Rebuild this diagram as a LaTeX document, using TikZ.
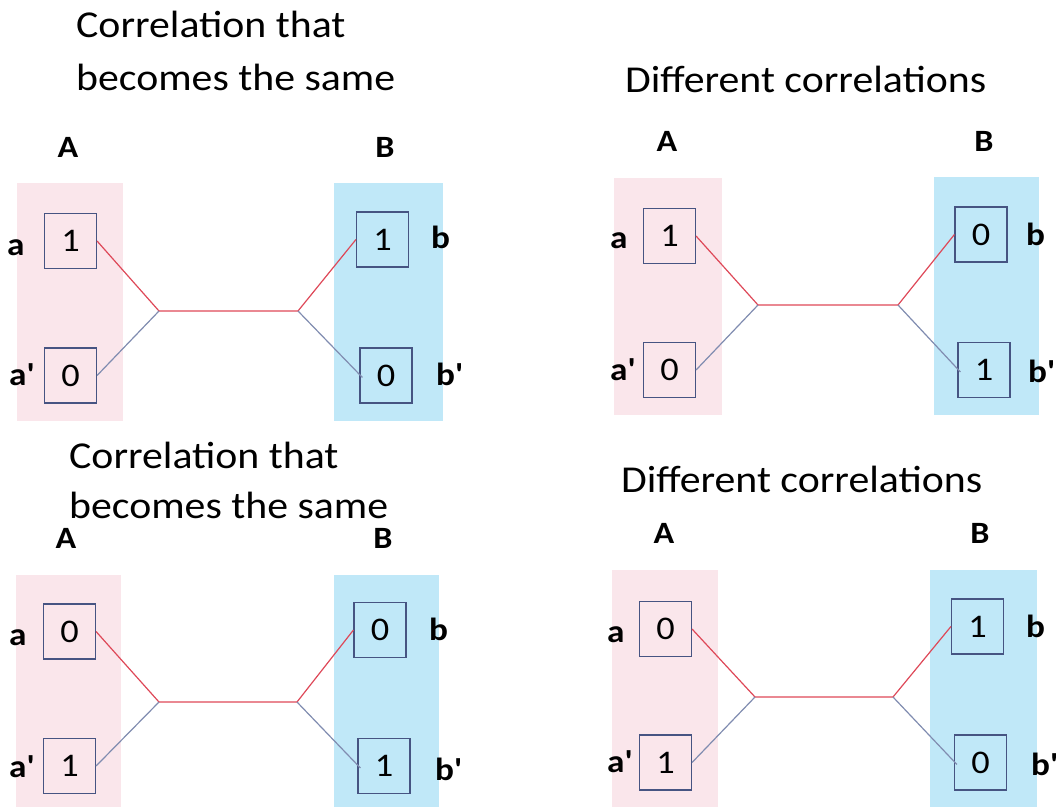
\documentclass[tikz,border=0pt]{standalone}
\usepackage{fontspec}
\setmainfont{Carlito}[FakeStretch=1.1]
\definecolor{pinkbg}{RGB}{250,230,235}
\definecolor{bluebg}{RGB}{192,232,248}
\definecolor{boxline}{RGB}{70,84,130}
\definecolor{redline}{RGB}{222,72,88}
\definecolor{grayline}{RGB}{128,140,176}
\newcommand{\qs}{\textquotesingle}
\tikzset{
  valbox/.style={draw=boxline, line width=1.1pt, inner sep=0pt, minimum width=52pt, minimum height=55pt, font=\fontsize{33}{33}\selectfont},
  ttl/.style={anchor=base west, inner sep=0pt, font=\fontsize{38}{42}\selectfont},
  side/.style={anchor=base, font=\fontsize{31}{31}\selectfont\bfseries, inner sep=0pt},
  lbl/.style={anchor=base west, font=\fontsize{32}{32}\selectfont\bfseries, inner sep=0pt},
  redc/.style={draw=redline, line width=1.2pt},
  grayc/.style={draw=grayline, line width=1.2pt}
}
\begin{document}
\begin{tikzpicture}[x=1pt,y=-1pt]
\useasboundingbox (0,0) rectangle (1060,807);
% ---------- top-left ----------
\fill[pinkbg] (17,183) rectangle (123,421);
\fill[bluebg] (334,183) rectangle (443,421);
\node[ttl] (t1a) at (76,37) {Correlation that};
\node[ttl] (t1b) at (76,90) {becomes the same};
\node[side] (t1A) at (68,157) {A};
\node[side] (t1B) at (385,157) {B};
\node[valbox] (t1a1) at (70.5,241) {1};
\node[valbox] (t1a2) at (70.5,375.5) {0};
\node[valbox] (t1b1) at (382.5,239.5) {1};
\node[valbox] (t1b2) at (386,375.5) {0};
\node[lbl] (t1la) at (7,255) {a};
\node[lbl] (t1lap) at (9,385) {a\qs};
\node[lbl] (t1lb) at (431,248) {b};
\node[lbl] (t1lbp) at (436,385) {b\qs};
\coordinate (t1j1) at (159,311);
\coordinate (t1j2) at (298,311);
\draw[redc] (t1a1.east) -- (t1j1) -- (t1j2) -- (t1b1.west);
\draw[grayc] (t1a2.east) -- (t1j1);
\draw[grayc] (t1j2) -- ([xshift=3pt,yshift=-2pt]t1b2.west);
% ---------- top-right ----------
\fill[pinkbg] (614,178) rectangle (722,415);
\fill[bluebg] (934,177) rectangle (1039,415);
\node[ttl] (t2a) at (625,92) {Different correlations};
\node[side] (t2A) at (667,151) {A};
\node[side] (t2B) at (984,151) {B};
\node[valbox] (t2a1) at (669.5,236) {1};
\node[valbox] (t2a2) at (669.5,370) {0};
\node[valbox] (t2b1) at (981,234.5) {0};
\node[valbox] (t2b2) at (984,370) {1};
\node[lbl] (t2la) at (610,248) {a};
\node[lbl] (t2lap) at (610,380) {a\qs};
\node[lbl] (t2lb) at (1026,245) {b};
\node[lbl] (t2lbp) at (1028,382) {b\qs};
\coordinate (t2j1) at (758,305);
\coordinate (t2j2) at (898,305);
\draw[redc] (t2a1.east) -- (t2j1) -- (t2j2) -- (t2b1.west);
\draw[grayc] (t2a2.east) -- (t2j1);
\draw[grayc] (t2j2) -- ([xshift=3pt,yshift=-2pt]t2b2.west);
% ---------- bottom-left ----------
\fill[pinkbg] (16,575) rectangle (121,807);
\fill[bluebg] (334,575) rectangle (439,807);
\node[ttl] (t3a) at (69,468) {Correlation that};
\node[ttl] (t3b) at (69,518) {becomes the same};
\node[side] (t3A) at (66,548) {A};
\node[side] (t3B) at (383,548) {B};
\node[valbox] (t3a1) at (69.5,631.5) {0};
\node[valbox] (t3a2) at (69.5,766) {1};
\node[valbox] (t3b1) at (380,630) {0};
\node[valbox] (t3b2) at (384,766) {1};
\node[lbl] (t3la) at (9,645) {a};
\node[lbl] (t3lap) at (9,777) {a\qs};
\node[lbl] (t3lb) at (429,640) {b};
\node[lbl] (t3lbp) at (435,780) {b\qs};
\coordinate (t3j1) at (159,702);
\coordinate (t3j2) at (297,702);
\draw[redc] (t3a1.east) -- (t3j1) -- (t3j2) -- (t3b1.west);
\draw[grayc] (t3a2.east) -- (t3j1);
\draw[grayc] (t3j2) -- ([xshift=3pt,yshift=-2pt]t3b2.west);
% ---------- bottom-right ----------
\fill[pinkbg] (612,570) rectangle (718,807);
\fill[bluebg] (930,570) rectangle (1037,807);
\node[ttl] (t4a) at (621,492) {Different correlations};
\node[side] (t4A) at (664,543) {A};
\node[side] (t4B) at (980,543) {B};
\node[valbox] (t4a1) at (665.5,629) {0};
\node[valbox] (t4a2) at (665.5,762.5) {1};
\node[valbox] (t4b1) at (977.5,626.5) {1};
\node[valbox] (t4b2) at (980.5,762.5) {0};
\node[lbl] (t4la) at (607,642) {a};
\node[lbl] (t4lap) at (607,772) {a\qs};
\node[lbl] (t4lb) at (1026,637) {b};
\node[lbl] (t4lbp) at (1031,775) {b\qs};
\coordinate (t4j1) at (755,697);
\coordinate (t4j2) at (893,697);
\draw[redc] (t4a1.east) -- (t4j1) -- (t4j2) -- (t4b1.west);
\draw[grayc] (t4a2.east) -- (t4j1);
\draw[grayc] (t4j2) -- ([xshift=3pt,yshift=-2pt]t4b2.west);
\end{tikzpicture}
\end{document}
